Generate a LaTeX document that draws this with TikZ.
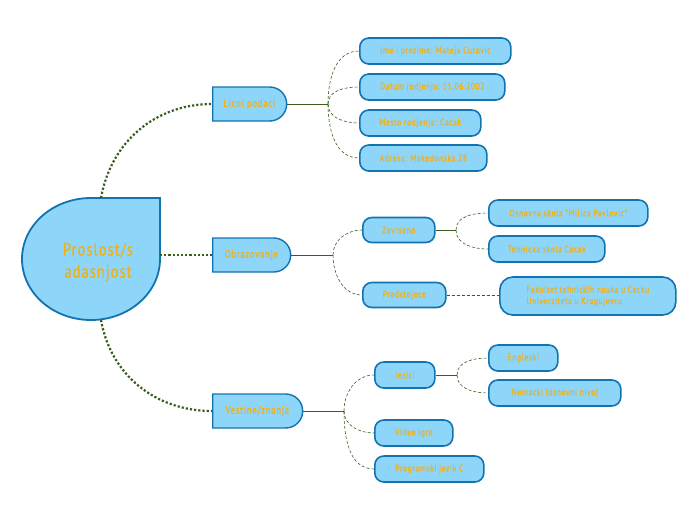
\documentclass[tikz,border=0pt]{standalone}
\usepackage{fontspec}
\setmainfont{PT Sans}[LetterSpace=6,FakeStretch=0.8,FakeBold=0.7]
\usetikzlibrary{shapes.misc}
\definecolor{mm_fill}{RGB}{142, 213, 250}
\definecolor{mm_line}{RGB}{19, 115, 175}
\definecolor{mm_text}{RGB}{242, 176, 20}
\definecolor{mm_green}{RGB}{58, 95, 28}
\tikzstyle{rt}=[draw=none,text=mm_text,align=center,font=\fontsize{18}{22}\selectfont]
\tikzstyle{tp}=[rounded rectangle,rounded rectangle left arc=none,fill=mm_fill,
  draw=mm_line,line width=1.4pt,minimum height=34pt,anchor=west,inner xsep=10pt,
  text=mm_text,font=\fontsize{11}{12}\selectfont]
\tikzstyle{lf}=[rectangle,rounded corners=9pt,fill=mm_fill,draw=mm_line,
  line width=1.6pt,minimum height=26pt,anchor=west,text=mm_text,align=left,
  font=\fontsize{9.5}{11.5}\selectfont]
\tikzstyle{main}=[draw=mm_green,line width=2.2pt,dash pattern=on 2.2pt off 2pt]
\tikzstyle{stem}=[draw=mm_green,line width=0.9pt]
\tikzstyle{br}=[draw=mm_green,line width=0.6pt,densely dashed]

\begin{document}
\begin{tikzpicture}[x=1pt,y=1pt]
        \useasboundingbox (0,0) rectangle (696,-520);
        % central topic
        \draw [fill=mm_fill,draw=mm_line,line width=1.8pt] (160,-198) -- (160,-259)
            arc[start angle=0,end angle=-270,x radius=69pt,y radius=61pt] -- cycle;
        \coordinate (rtop) at (101,-198);
        \coordinate (rbot) at (101,-320);
        \node [style=rt] (root) at (98,-262) {Proslost/s\\adasnjost};
        % main topics
        \node [style=tp,minimum width=94pt] (licni) at (212,-104) {Licni podaci};
        \node [style=tp,minimum width=98pt] (obraz) at (212,-255) {Obrazovanje};
        \node [style=tp,minimum width=110pt] (vest) at (212,-411) {Vestine/znanja};
        % licni podaci
        \node [style=lf,minimum width=151pt] (ime) at (359,-51) {Ime i prezime: Mateja Cutovic};
        \node [style=lf,minimum width=145pt] (datum) at (359,-87) {Datum rodjenja: 11.06.2002};
        \node [style=lf,minimum width=121pt] (mesto) at (359,-123) {Mesto rodjenja: Cacak};
        \node [style=lf,minimum width=127pt] (adresa) at (359,-158) {Adresa: Makedonska 28};
        % obrazovanje
        \node [style=lf,minimum width=72pt,minimum height=25pt] (zavr) at (362,-230) {Zavrseno};
        \node [style=lf,minimum width=83pt,minimum height=25pt] (pred) at (362,-295) {Predstojece};
        \node [style=lf,minimum width=159pt] (osnovna) at (488,-213) {Osnovna skola "Milica Pavlovic"};
        \node [style=lf,minimum width=116pt] (tehn) at (488,-249) {Tehnicka skola Cacak};
        \node [style=lf,minimum width=176pt,minimum height=38pt,rounded corners=13pt] (fakul) at (499,-296)
            {Fakultet tehnickih nauka u Cacku\\Univerziteta u Kragujevcu};
        % vestine
        \node [style=lf,minimum width=60pt] (jez) at (374,-375) {Jezici};
        \node [style=lf,minimum width=78pt] (video) at (374,-433) {Video igre};
        \node [style=lf,minimum width=109pt] (prog) at (374,-469) {Programski jezik C};
        \node [style=lf,minimum width=69pt] (engl) at (488,-358) {Engleski};
        \node [style=lf,minimum width=132pt] (nem) at (488,-393) {Nemacki (osnovni nivo)};
        % branch points
        \coordinate (bl) at (328,-104);
        \coordinate (bo) at (333,-255);
        \coordinate (bz) at (456,-230);
        \coordinate (bv) at (344,-411);
        \coordinate (bj) at (457,-375);
        % connectors
        \draw [style=main] (rtop) to[out=80,in=180] (licni.west);
        \draw [style=main] (160,-255) to (obraz.west);
        \draw [style=main] (rbot) to[out=-80,in=180] (vest.west);
        \draw [style=stem] (licni.east) to (bl);
        \draw [style=br] (bl) to[out=90,in=180] (ime.west);
        \draw [style=br] (bl) to[out=90,in=180] (datum.west);
        \draw [style=br] (bl) to[out=-90,in=180] (mesto.west);
        \draw [style=br] (bl) to[out=-90,in=180] (adresa.west);
        \draw [style=stem] (obraz.east) to (bo);
        \draw [style=br] (bo) to[out=90,in=180] (zavr.west);
        \draw [style=br] (bo) to[out=-90,in=180] (pred.west);
        \draw [style=stem] (zavr.east) to (bz);
        \draw [style=br] (bz) to[out=90,in=180] (osnovna.west);
        \draw [style=br] (bz) to[out=-90,in=180] (tehn.west);
        \draw [style=br] (pred.east) to (pred.east -| fakul.west);
        \draw [style=stem] (vest.east) to (bv);
        \draw [style=br] (bv) to[out=90,in=180] (jez.west);
        \draw [style=br] (bv) to[out=-90,in=180] (video.west);
        \draw [style=br] (bv) to[out=-90,in=180] (prog.west);
        \draw [style=stem] (jez.east) to (bj);
        \draw [style=br] (bj) to[out=90,in=180] (engl.west);
        \draw [style=br] (bj) to[out=-90,in=180] (nem.west);
    \end{tikzpicture}
\end{document}
